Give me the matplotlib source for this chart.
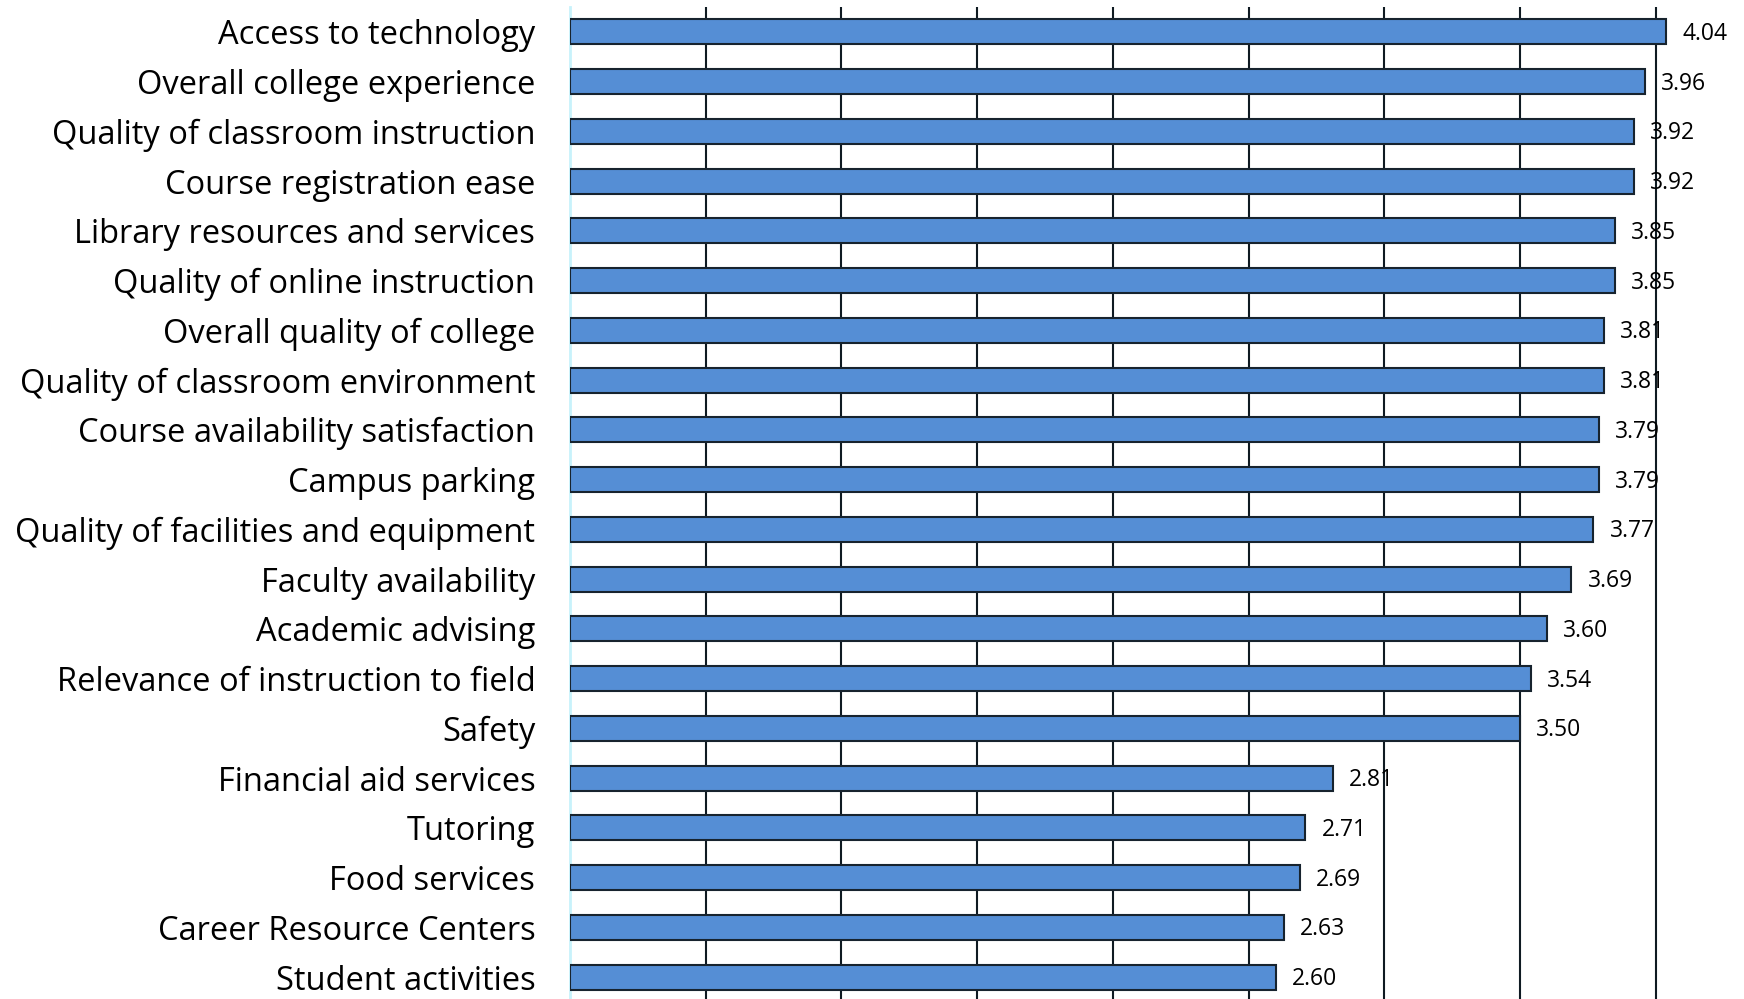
import matplotlib
matplotlib.use('Agg')
import matplotlib.pyplot as plt

plt.rcParams['font.family'] = ['Open Sans', 'DejaVu Sans']

# categories top to bottom
labels = ['Access to technology', 'Overall college experience',
          'Quality of classroom instruction', 'Course registration ease',
          'Library resources and services', 'Quality of online instruction',
          'Overall quality of college', 'Quality of classroom environment',
          'Course availability satisfaction', 'Campus parking',
          'Quality of facilities and equipment', 'Faculty availability',
          'Academic advising', 'Relevance of instruction to field', 'Safety',
          'Financial aid services', 'Tutoring', 'Food services',
          'Career Resource Centers', 'Student activities']
values = [4.04, 3.96, 3.92, 3.92, 3.85, 3.85, 3.81, 3.81, 3.79, 3.79,
          3.77, 3.69, 3.60, 3.54, 3.50, 2.81, 2.71, 2.69, 2.63, 2.60]
grid_ticks = [0.5, 1.0, 1.5, 2.0, 2.5, 3.0, 3.5, 4.0]

fig = plt.figure(figsize=(17.44, 9.99), dpi=100)
# left edge at x=570px, top at y=7px
ax = fig.add_axes([570 / 1744, -0.003, 1 - 570 / 1744, 1 - 0.004])

y = list(range(len(labels)))
ax.barh(y, values, height=0.5, color='#558ED5', edgecolor='#17232e',
        linewidth=1.5, zorder=3)

for yi, v in zip(y, values):
    ax.text(v + 0.06, yi + 0.04, '%.2f' % v, va='center', ha='left',
            fontsize=16.5, fontweight='medium', color='black', zorder=4)

ax.set_xlim(0, 1174 / 271.4)
ax.set_ylim(len(labels) - 0.5, -0.5)
ax.set_yticks(y)
ax.set_yticklabels(labels, fontsize=23.5)
for t in ax.get_yticklabels():
    t.set_verticalalignment('center_baseline')
ax.set_xticks(grid_ticks)
ax.tick_params(axis='y', length=0, pad=25)
ax.tick_params(axis='x', length=0, labelbottom=False)
ax.xaxis.grid(True, color='#0f1a22', linewidth=1.5, zorder=0)
ax.set_axisbelow(True)

for s in ['top', 'right', 'bottom']:
    ax.spines[s].set_visible(False)
ax.spines['left'].set_color('#c8f2fb')
ax.spines['left'].set_linewidth(2)

plt.savefig('out.png', dpi=100)
plt.close('all')
